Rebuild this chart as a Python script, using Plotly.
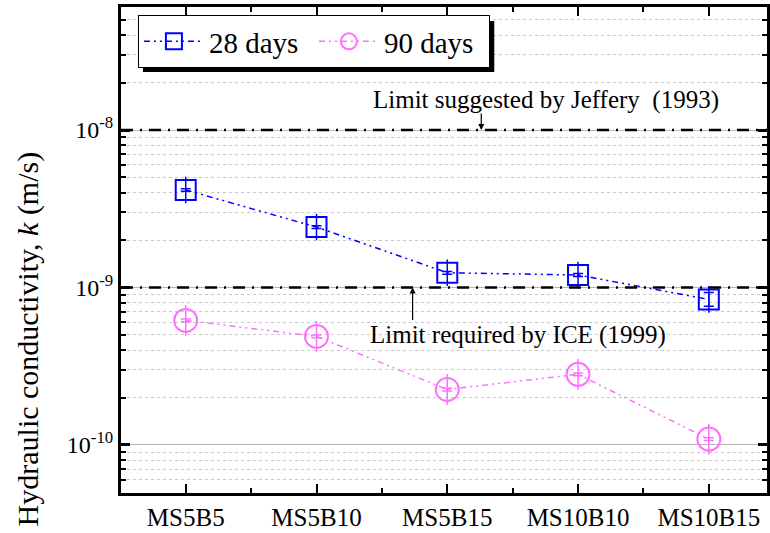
import plotly.graph_objects as go
import numpy as np

categories = ["MS5B5", "MS5B10", "MS5B15", "MS10B10", "MS10B15"]
k28 = [4.16e-9, 2.42e-9, 1.24e-9, 1.20e-9, 8.4e-10]
k28_err_plus = [0.08e-9, 0.05e-9, 0.025e-9, 0.025e-9, 0.9e-10]
k28_err_minus = [0.08e-9, 0.05e-9, 0.025e-9, 0.025e-9, 0.8e-10]
k90 = [6.18e-10, 4.89e-10, 2.25e-10, 2.81e-10, 1.09e-10]
k90_err = [0.12e-10, 0.10e-10, 0.045e-10, 0.055e-10, 0.022e-10]
limit_values = [1e-8, 1e-9]
limit_labels = ["Limit suggested by Jeffery  (1993)", "Limit required by ICE (1999)"]
ytick_vals = [1e-10, 1e-9, 1e-8]
ytick_text = ["10<sup>-10</sup>", "10<sup>-9</sup>", "10<sup>-8</sup>"]

FONT = "Liberation Serif"
BLUE = "#0000FF"
PINK = "#FF70FF"
x = list(range(len(categories)))
YR = [-10.305, -7.219]
XR = [-0.495, 4.445]

# plot geometry helpers (pixels -> paper)
L, R, T, B = 121, 770, 7, 493
W, H = R - L, B - T
def px(xp):
    return (xp - L) / W
def py(yp):
    return (B - yp) / H
def ylog_paper(v):
    return (np.log10(v) - YR[0]) / (YR[1] - YR[0])

fig = go.Figure()

fig.add_trace(go.Scatter(
    x=x, y=k28, name="28 days", mode="lines+markers",
    line=dict(color=BLUE, width=1.5, dash="6px,4px,2px,4px,2px,4px"),
    marker=dict(symbol="square-open", size=20, color=BLUE, line=dict(width=2, color=BLUE)),
    error_y=dict(type="data", array=k28_err_plus, arrayminus=k28_err_minus,
                 color=BLUE, thickness=1.5, width=5),
))
fig.add_trace(go.Scatter(
    x=x, y=k28, mode="markers", showlegend=False, hoverinfo="skip",
    marker=dict(symbol="line-ns", size=19, color=BLUE, line=dict(width=1.5, color=BLUE)),
))
fig.add_trace(go.Scatter(
    x=x, y=k90, name="90 days", mode="lines+markers",
    line=dict(color=PINK, width=1.5, dash="6px,4px,2px,4px,2px,4px"),
    marker=dict(symbol="circle-open", size=23, color=PINK, line=dict(width=2, color=PINK)),
    error_y=dict(type="data", array=k90_err, color=PINK, thickness=1.5, width=5),
))
fig.add_trace(go.Scatter(
    x=x, y=k90, mode="markers", showlegend=False, hoverinfo="skip",
    marker=dict(symbol="line-ns", size=22, color=PINK, line=dict(width=1.5, color=PINK)),
))

shapes = []
for v in limit_values:
    yp = float(ylog_paper(v))
    shapes.append(dict(type="line", xref="paper", x0=0, x1=1, yref="paper",
                       y0=yp, y1=yp, layer="above",
                       line=dict(color="black", width=2.5, dash="12px,7px,2px,7px")))
# legend shadow
shapes.append(dict(type="rect", xref="paper", yref="paper",
                   x0=px(143), x1=px(496), y0=py(72), y1=py(21),
                   fillcolor="black", line=dict(width=0), layer="above"))

annotations = [
    dict(x=2.26, y=float(np.log10(limit_values[0])), xref="x", yref="y", text="",
         showarrow=True, ax=0, ay=-18, arrowhead=2, arrowsize=1, arrowwidth=1.2,
         arrowcolor="black"),
    dict(x=2.755, y=float(np.log10(limit_values[0])) + 0.19, xref="x", yref="y",
         xanchor="center", yanchor="middle",
         text=limit_labels[0], showarrow=False, font=dict(size=25, family=FONT, color="black")),
    dict(x=1.735, y=float(np.log10(limit_values[1])), xref="x", yref="y", text="",
         showarrow=True, ax=0, ay=34, arrowhead=2, arrowsize=1, arrowwidth=1.2,
         arrowcolor="black"),
    dict(x=2.54, y=float(np.log10(limit_values[1])) - 0.30, xref="x", yref="y",
         xanchor="center", yanchor="middle",
         text=limit_labels[1], showarrow=False, font=dict(size=25, family=FONT, color="black")),
    dict(x=px(28), y=py(339), xref="paper", yref="paper", textangle=-90,
         xanchor="center", yanchor="middle",
         text="Hydraulic conductivity, <i>k</i> (m/s)", showarrow=False,
         font=dict(size=30, family=FONT, color="black")),
]

minor_y = [m * 10.0 ** e for e in range(-11, -7) for m in range(2, 10)]

fig.update_layout(
    width=770, height=533,
    margin=dict(l=L, r=0, t=T, b=533 - B, pad=0),
    paper_bgcolor="white", plot_bgcolor="white",
    font=dict(family=FONT, color="black"),
    shapes=shapes, annotations=annotations,
    legend=dict(x=px(138), y=py(15), xanchor="left", yanchor="top",
                orientation="h", bgcolor="white", bordercolor="black", borderwidth=1,
                font=dict(size=29, family=FONT, color="black"), itemwidth=60,
                entrywidth=100, entrywidthmode="pixels", tracegroupgap=0),
    showlegend=True,
)

fig.update_xaxes(
    range=XR, tickmode="array", tickvals=x, ticktext=categories,
    showgrid=False, zeroline=False,
    showline=True, linecolor="black", linewidth=3, mirror="ticks",
    ticks="inside", ticklen=9, tickwidth=2, tickcolor="black",
    tickfont=dict(size=25, family=FONT, color="black"),
    minor=dict(tickmode="array", tickvals=[i + 0.5 for i in x[:-1]], ticks="inside",
               ticklen=5, tickwidth=2, tickcolor="black", showgrid=False),
)
fig.update_yaxes(
    type="log", range=YR,
    tickmode="array", tickvals=ytick_vals, ticktext=ytick_text,
    showgrid=True, gridcolor="#b4b4b4", gridwidth=1, zeroline=False,
    showline=True, linecolor="black", linewidth=3, mirror="ticks",
    ticks="inside", ticklen=9, tickwidth=3, tickcolor="black",
    tickfont=dict(size=24, family=FONT, color="black"),
    minor=dict(tickmode="array", tickvals=minor_y, ticks="inside", ticklen=5,
               tickwidth=2, tickcolor="black", showgrid=True,
               gridcolor="#c8c8c8", griddash="dot", gridwidth=1),
)

fig.write_html("out.html")
